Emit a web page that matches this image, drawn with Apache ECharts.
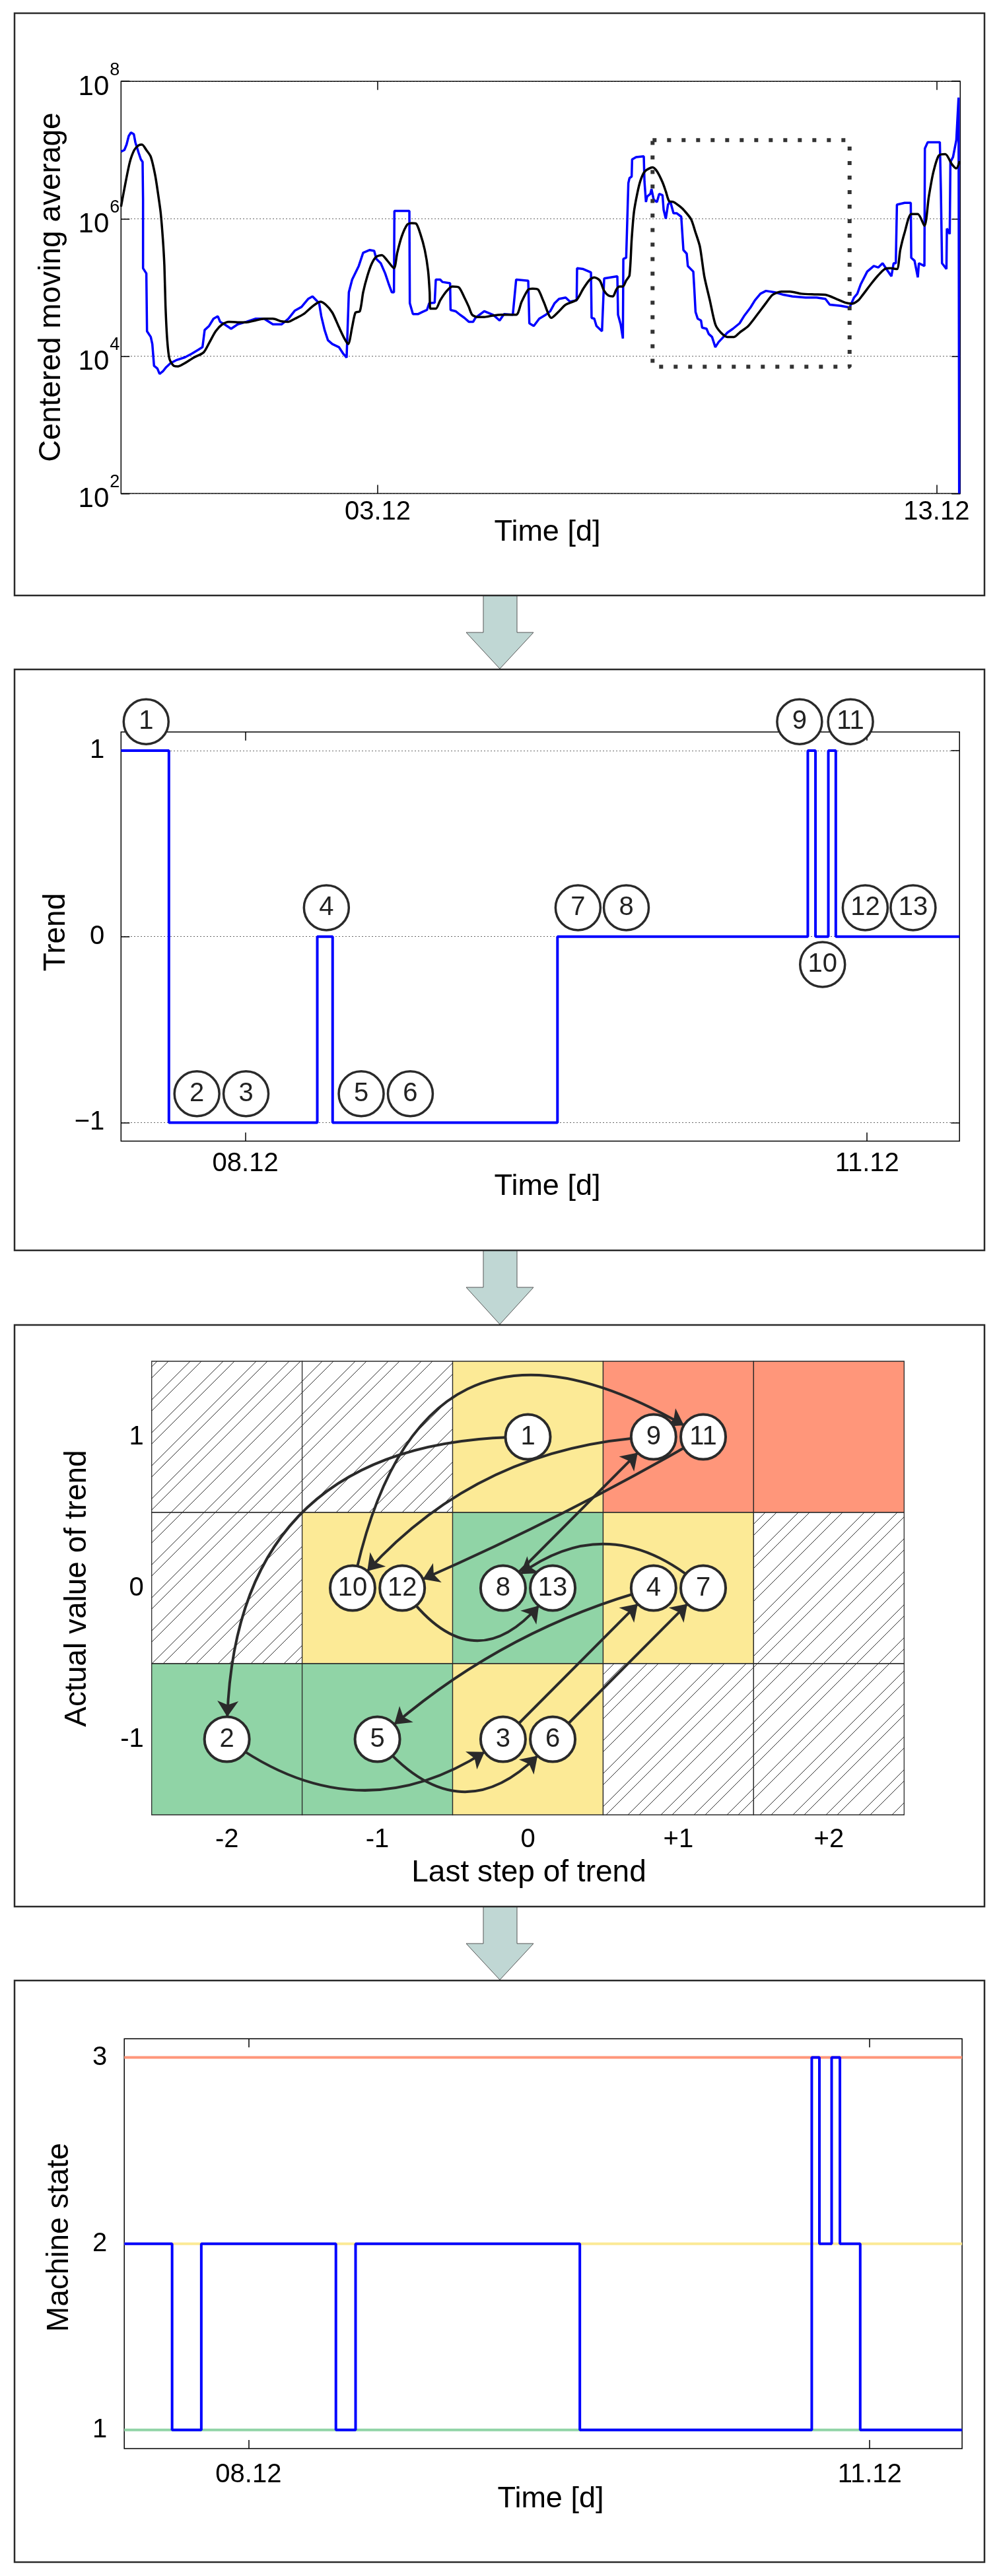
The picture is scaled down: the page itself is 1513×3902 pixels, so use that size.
<!DOCTYPE html>
<html>
<head>
<meta charset="utf-8">
<script src="https://cdn.jsdelivr.net/npm/echarts@6.0.0/dist/echarts.min.js"></script>
<style>
html,body{margin:0;padding:0;background:#fff;}
#chart{width:1513px;height:3902px;}
</style>
</head>
<body>
<div id="chart"></div>
<script>
// ---------------- DATA ----------------
// Panel 1: centered moving average (day of December, value)
const rawSignal = [
 [-1.593,9.5e6],[-1.533,1.0e7],[-1.494,1.2e7],[-1.455,1.6e7],[-1.415,1.8e7],[-1.364,1.7e7],[-1.337,1.3e7],
 [-1.278,9.1e6],[-1.238,7.3e6],[-1.207,6.7e6],[-1.199,1.9e6],[-1.199,1.9e5],[-1.140,1.6e5],[-1.128,2.3e4],
 [-1.061,1.9e4],[-1.033,1.5e4],[-1.002,7.2e3],[-0.943,6.6e3],[-0.903,5.5e3],[-0.844,6.0e3],[-0.785,6.9e3],
 [-0.706,7.9e3],[-0.608,8.7e3],[-0.450,9.6e3],[-0.332,1.08e4],[-0.214,1.23e4],[-0.135,1.35e4],[-0.116,1.41e4],
 [-0.096,2.4e4],[-0.017,2.75e4],[0.062,3.5e4],[0.140,3.8e4],[0.180,3.16e4],[0.258,2.9e4],[0.377,2.5e4],
 [0.495,2.9e4],[0.652,3.16e4],[0.810,3.5e4],[0.967,3.5e4],[1.125,2.9e4],[1.282,2.9e4],[1.401,3.5e4],
 [1.519,4.6e4],[1.637,5.2e4],[1.755,6.8e4],[1.834,7.4e4],[1.952,5.9e4],[1.991,3.8e4],[2.050,2.4e4],
 [2.110,1.7e4],[2.188,1.5e4],[2.306,1.35e4],[2.385,1.08e4],[2.444,9.5e3],[2.484,8.5e4],[2.543,1.3e5],
 [2.661,2.05e5],[2.740,3.2e5],[2.858,3.5e5],[2.937,3.4e5],[2.976,2.6e5],[3.055,2.25e5],[3.134,1.6e5],
 [3.193,1.15e5],[3.252,8.5e4],[3.291,8.5e4],[3.299,1.3e6],[3.567,1.3e6],[3.575,5.9e4],[3.630,4.1e4],
 [3.725,4.1e4],[3.804,4.4e4],[3.882,4.7e4],[3.922,5.9e4],[4.020,6.0e4],[4.040,1.3e5],[4.119,1.3e5],
 [4.158,1.2e5],[4.296,1.15e5],[4.304,4.7e4],[4.394,4.5e4],[4.473,4.0e4],[4.552,3.6e4],[4.631,3.16e4],
 [4.709,3.16e4],[4.749,3.6e4],[4.907,4.5e4],[5.064,4.0e4],[5.182,3.3e4],[5.261,4.1e4],[5.418,4.0e4],
 [5.478,1.3e5],[5.694,1.25e5],[5.714,3.0e4],[5.793,2.75e4],[5.891,3.5e4],[6.009,4.0e4],[6.088,4.5e4],
 [6.167,5.9e4],[6.245,6.8e4],[6.364,7.1e4],[6.442,6.2e4],[6.561,6.5e4],[6.568,1.9e5],[6.679,1.85e5],
 [6.817,1.65e5],[6.828,3.6e4],[6.876,3.5e4],[6.915,2.75e4],[7.014,2.3e4],[7.053,1.35e5],[7.289,1.45e5],
 [7.301,4.0e4],[7.348,2.9e4],[7.388,1.8e4],[7.396,2.6e5],[7.447,2.7e5],[7.486,3.3e6],[7.506,3.9e6],
 [7.545,4.1e6],[7.553,7.3e6],[7.624,7.9e6],[7.762,8.1e6],[7.774,3.5e6],[7.801,1.75e6],[7.821,2.1e6],
 [7.880,2.3e6],[7.900,2.7e6],[7.939,1.9e6],[7.998,1.75e6],[8.038,2.3e6],[8.097,2.2e6],[8.117,1.35e6],
 [8.156,1.0e6],[8.195,1.6e6],[8.235,1.8e6],[8.294,1.2e6],[8.353,1.2e6],[8.432,1.07e6],[8.471,3.5e5],
 [8.530,3.1e5],[8.550,2.05e5],[8.648,1.7e5],[8.668,8.9e4],[8.688,4.4e4],[8.727,3.5e4],[8.786,3.3e4],
 [8.806,2.6e4],[8.885,2.5e4],[8.924,2.1e4],[8.983,1.9e4],[9.042,1.35e4],[9.101,1.6e4],[9.160,1.8e4],
 [9.259,2.2e4],[9.357,2.5e4],[9.476,3.0e4],[9.554,3.8e4],[9.672,5.1e4],[9.751,6.5e4],[9.850,8.1e4],
 [9.948,8.9e4],[10.106,8.5e4],[10.263,7.8e4],[10.421,7.4e4],[10.657,7.1e4],[10.854,7.1e4],[11.012,6.8e4],
 [11.090,5.6e4],[11.287,5.4e4],[11.445,5.1e4],[11.524,7.1e4],[11.583,8.1e4],[11.642,1.1e5],[11.760,1.7e5],
 [11.878,2.05e5],[11.957,1.95e5],[12.036,2.25e5],[12.114,1.8e5],[12.193,1.45e5],[12.233,2.25e5],
 [12.272,2.25e5],[12.292,1.6e6],[12.430,1.7e6],[12.540,1.7e6],[12.548,2.7e5],[12.607,2.45e5],
 [12.666,1.4e5],[12.685,2.25e5],[12.784,2.05e5],[12.792,1.05e7],[12.843,1.3e7],[13.060,1.3e7],
 [13.079,2.5e6],[13.099,2.25e5],[13.178,1.85e5],[13.186,7.2e5],[13.237,6.0e5],[13.249,6.7e6],
 [13.296,7.9e6],[13.355,1.4e7],[13.395,5.8e7],[13.406,100]
];
const smoothSignal = [
 [-1.593,1.5e6],[-1.514,3.3e6],[-1.435,6.7e6],[-1.356,1.0e7],[-1.278,1.17e7],[-1.218,1.2e7],[-1.140,1.0e7],
 [-1.061,8.0e6],[-0.982,4.3e6],[-0.923,2.1e6],[-0.884,1.23e6],[-0.844,5.0e5],[-0.817,2.05e5],[-0.797,5.4e4],
 [-0.766,1.7e4],[-0.726,9.1e3],[-0.647,7.2e3],[-0.569,7.1e3],[-0.450,7.9e3],[-0.293,9.5e3],[-0.116,1.13e4],
 [-0.017,1.55e4],[0.101,2.3e4],[0.219,2.9e4],[0.337,3.16e4],[0.495,3.1e4],[0.652,3.1e4],[0.810,3.3e4],
 [0.967,3.5e4],[1.125,3.5e4],[1.282,3.2e4],[1.401,3.16e4],[1.519,3.5e4],[1.676,4.1e4],[1.834,5.3e4],
 [1.972,6.2e4],[2.070,5.6e4],[2.188,4.3e4],[2.306,2.65e4],[2.405,1.8e4],[2.472,1.5e4],[2.543,2.65e4],
 [2.602,4.3e4],[2.681,4.5e4],[2.740,8.5e4],[2.819,1.5e5],[2.897,2.25e5],[2.976,2.8e5],[3.075,2.95e5],
 [3.173,2.45e5],[3.291,1.9e5],[3.350,3.2e5],[3.429,5.5e5],[3.528,8.2e5],[3.606,8.6e5],[3.685,8.5e5],
 [3.764,6.0e5],[3.843,3.5e5],[3.902,1.75e5],[3.930,8.5e4],[3.941,4.9e4],[4.040,4.9e4],[4.119,6.5e4],
 [4.237,8.9e4],[4.335,1.03e5],[4.453,1.0e5],[4.552,7.1e4],[4.631,5.2e4],[4.690,4.0e4],[4.788,3.7e4],
 [4.907,3.7e4],[5.064,3.9e4],[5.222,4.0e4],[5.478,4.0e4],[5.576,6.2e4],[5.694,9.3e4],[5.773,9.6e4],
 [5.871,9.3e4],[5.970,6.2e4],[6.108,3.6e4],[6.245,4.5e4],[6.364,5.6e4],[6.561,6.6e4],[6.679,9.6e4],
 [6.797,1.3e5],[6.876,1.4e5],[6.974,1.26e5],[7.053,8.9e4],[7.132,7.6e4],[7.210,7.4e4],[7.270,9.3e4],
 [7.329,1.03e5],[7.388,1.03e5],[7.447,1.26e5],[7.506,1.5e5],[7.545,5.0e5],[7.585,1.23e6],[7.644,2.3e6],
 [7.703,3.6e6],[7.782,4.9e6],[7.919,5.6e6],[7.998,4.9e6],[8.097,3.4e6],[8.156,2.5e6],[8.215,1.8e6],
 [8.294,1.75e6],[8.412,1.5e6],[8.491,1.3e6],[8.609,9.8e5],[8.688,6.3e5],[8.767,3.9e5],[8.845,1.45e5],
 [8.944,6.5e4],[9.042,2.9e4],[9.141,2.2e4],[9.259,1.9e4],[9.377,1.9e4],[9.476,2.2e4],[9.633,2.75e4],
 [9.791,4.0e4],[9.948,5.9e4],[10.066,7.8e4],[10.224,8.7e4],[10.381,8.7e4],[10.578,8.1e4],[10.815,7.9e4],
 [11.012,7.8e4],[11.208,6.8e4],[11.366,6.0e4],[11.484,5.8e4],[11.602,6.5e4],[11.681,7.8e4],[11.839,1.15e5],
 [11.957,1.5e5],[12.075,1.85e5],[12.174,1.9e5],[12.292,1.85e5],[12.351,3.5e5],[12.430,6.3e5],[12.548,1.17e6],
 [12.666,1.17e6],[12.784,7.9e5],[12.863,2.1e6],[12.942,4.7e6],[13.040,8.3e6],[13.158,8.7e6],[13.276,6.2e6],
 [13.355,5.4e6],[13.414,6.9e6]
];
const zoomWindow = [[7.919,1.39e7],[11.445,1.39e7],[11.445,7.0e3],[7.919,7.0e3],[7.919,1.39e7]];
const p1DayRange = [-1.593, 13.425];
const p1TickDays = [3, 13];
const p1TickLabels = ['03.12', '13.12'];
const p1ValueTicks = [1e2, 1e4, 1e6, 1e8];
const p1ValueExponents = ['2', '4', '6', '8'];

// Panel 2: trend
const zoomDayRange = [7.400, 11.446];
const trendDays   = [7.400, 7.631, 8.347, 8.421, 9.506, 10.714, 10.751, 10.813, 10.849, 11.446];
const trendValues = [1, -1, 0, -1, 0, 1, 0, 1, 0, 0];
const zoomTickDays = [8, 11];
const zoomTickLabels = ['08.12', '11.12'];
const trendTicks = [-1, 0, 1];
const trendTickLabels = ['\u22121', '0', '1'];
const eventNumbers = ['1','2','3','4','5','6','7','8','9','10','11','12','13'];
const eventDays    = [7.521, 7.766, 8.003, 8.391, 8.559, 8.796, 9.605, 9.838, 10.674, 10.785, 10.920, 10.991, 11.222];
const eventTrend   = [1, -1, -1, 0, -1, -1, 0, 0, 1, 0, 1, 0, 0];
const eventSide    = ['a','a','a','a','a','a','a','a','a','b','a','a','a'];

// Panel 3: transition map
const stepValues = [-2, -1, 0, 1, 2];
const stepLabels = ['-2', '-1', '0', '+1', '+2'];
const trendRows = [1, 0, -1];
const trendRowLabels = ['1', '0', '-1'];
const cellStates = [
  ['impossible', 'impossible', 'warning', 'alarm', 'alarm'],
  ['impossible', 'warning', 'normal', 'warning', 'impossible'],
  ['normal', 'normal', 'warning', 'impossible', 'impossible']
];
const nodeStep  = [0, -2, 0, 1, -1, 0, 1, 0, 1, -1, 1, -1, 0];   // events 1..13
const nodeTrend = [1, -1, -1, 0, -1, -1, 0, 0, 1, 0, 1, 0, 0];
const transitions = [['1','2'],['2','3'],['3','4'],['4','5'],['5','6'],['6','7'],['7','8'],['8','9'],['9','10'],['10','11'],['11','12'],['12','13']];

// Panel 4: machine state
const stateDays   = [7.400, 7.631, 7.772, 8.422, 8.517, 9.600, 10.720, 10.757, 10.816, 10.856, 10.954, 11.446];
const stateValues = [2, 1, 2, 1, 2, 1, 3, 2, 3, 2, 1, 1];
const stateLevels = [1, 2, 3];
const stateTickLabels = ['1', '2', '3'];

// ---------------- STYLE ----------------
const FONT = "'Liberation Sans', Arial, Helvetica, sans-serif";
const BLUE = '#0000ff';
const DARK = '#2a2a2a';
const cellFill = { impossible: '#ffffff', normal: '#90d4a6', warning: '#fcea96', alarm: '#ff967a' };
const levelColors = ['#90d4a6', '#fcea96', '#ff967a'];
const edgeBend = [-0.5, -0.37, 0, -0.12, -0.6, 0, -0.44, 0, -0.22, 0.72, 0.03, -0.7];
const pairOffset = 0.165;

function lookup(vals, labels) {
  return function (v) {
    for (let i = 0; i < vals.length; i++) { if (Math.abs(vals[i] - v) < 1e-6 * Math.max(1, Math.abs(v))) return labels[i]; }
    return '';
  };
}
const tickInside = { show: true, inside: true, length: 13, lineStyle: { color: '#000', width: 1.5 } };
const labelBase = { fontSize: 40, fontFamily: FONT, color: '#000' };
const dotted = { type: [1.5, 3.5], color: '#333', width: 1 };
const noLine = { show: false, onZero: false };

// ---------------- BUILD ----------------
const trendLine = trendDays.map((d, i) => [d, trendValues[i]]);
const stateLine = stateDays.map((d, i) => [d, stateValues[i]]);
const markerData = eventDays.map((d, i) => ({ name: eventNumbers[i], value: [d, eventTrend[i] + (eventSide[i] === 'b' ? -0.15 : 0.155)] }));

const cellData = [];
trendRows.forEach((t, r) => stepValues.forEach((s, c) => cellData.push([s, t, cellStates[r][c]])));

// nodes: spread events that share one cell
const nodeData = eventNumbers.map((n, i) => {
  const same = [];
  for (let j = 0; j < eventNumbers.length; j++) if (nodeStep[j] === nodeStep[i] && nodeTrend[j] === nodeTrend[i]) same.push(j);
  let dx = 0;
  if (same.length === 2) dx = same[0] === i ? -pairOffset : pairOffset;
  return { name: n, value: [nodeStep[i] + dx, nodeTrend[i]] };
});
const linkData = transitions.map((t, i) => ({ source: t[0], target: t[1], lineStyle: { curveness: edgeBend[i] } }));

function levelSeries(v, i) {
  return {
    type: 'line', xAxisIndex: 5, yAxisIndex: 5, z: 1, silent: true, showSymbol: false, animation: false,
    data: [[zoomDayRange[0], v], [zoomDayRange[1], v]],
    lineStyle: { color: levelColors[i], width: 4 }
  };
}

const option = {
  animation: false,
  backgroundColor: '#ffffff',
  textStyle: { fontFamily: FONT },
  grid: [
    { left: 183.3, top: 123.2, width: 1271, height: 624.3, show: true, borderColor: '#000', borderWidth: 1.5, backgroundColor: 'transparent', outerBoundsMode: 'none' },
    { left: 183.3, top: 1108.7, width: 1269.9, height: 619.9, show: true, borderColor: '#000', borderWidth: 1.5, backgroundColor: 'transparent', outerBoundsMode: 'none' },
    { left: 229.7, top: 2062, width: 1139.6, height: 687, show: false, outerBoundsMode: 'none' },
    { left: 188.2, top: 3088.3, width: 1268.9, height: 620.7, show: true, borderColor: '#000', borderWidth: 1.5, backgroundColor: 'transparent', outerBoundsMode: 'none' }
  ],
  xAxis: [
    { gridIndex: 0, type: 'value', min: p1DayRange[0], max: p1DayRange[1], position: 'bottom',
      axisLine: noLine, splitLine: { show: false },
      axisTick: Object.assign({ customValues: p1TickDays }, tickInside),
      axisLabel: Object.assign({ customValues: p1TickDays, formatter: lookup(p1TickDays, p1TickLabels), margin: 8 }, labelBase) },
    { gridIndex: 0, type: 'value', min: p1DayRange[0], max: p1DayRange[1], position: 'top',
      axisLine: noLine, splitLine: { show: false },
      axisTick: Object.assign({ customValues: p1TickDays }, tickInside), axisLabel: { show: false } },
    { gridIndex: 1, type: 'value', min: zoomDayRange[0], max: zoomDayRange[1], position: 'bottom',
      axisLine: noLine, splitLine: { show: false },
      axisTick: Object.assign({ customValues: zoomTickDays }, tickInside),
      axisLabel: Object.assign({ customValues: zoomTickDays, formatter: lookup(zoomTickDays, zoomTickLabels), margin: 14 }, labelBase) },
    { gridIndex: 1, type: 'value', min: zoomDayRange[0], max: zoomDayRange[1], position: 'top',
      axisLine: noLine, splitLine: { show: false },
      axisTick: Object.assign({ customValues: zoomTickDays }, tickInside), axisLabel: { show: false } },
    { gridIndex: 2, type: 'value', min: -2.5, max: 2.5, position: 'bottom',
      axisLine: noLine, splitLine: { show: false }, axisTick: { show: false, customValues: stepValues },
      axisLabel: Object.assign({ customValues: stepValues, formatter: lookup(stepValues, stepLabels), margin: 18 }, labelBase) },
    { gridIndex: 3, type: 'value', min: zoomDayRange[0], max: zoomDayRange[1], position: 'bottom',
      axisLine: noLine, splitLine: { show: false },
      axisTick: Object.assign({ customValues: zoomTickDays }, tickInside),
      axisLabel: Object.assign({ customValues: zoomTickDays, formatter: lookup(zoomTickDays, zoomTickLabels), margin: 20 }, labelBase) },
    { gridIndex: 3, type: 'value', min: zoomDayRange[0], max: zoomDayRange[1], position: 'top',
      axisLine: noLine, splitLine: { show: false },
      axisTick: Object.assign({ customValues: zoomTickDays }, tickInside), axisLabel: { show: false } }
  ],
  yAxis: [
    { gridIndex: 0, type: 'log', logBase: 100, min: 1e2, max: 1e8, position: 'left',
      axisLine: noLine, axisTick: tickInside,
      splitLine: { show: true, lineStyle: dotted },
      axisLabel: { margin: 2, color: '#000', fontFamily: FONT,
        formatter: v => '{b|10}{s|' + lookup(p1ValueTicks, p1ValueExponents)(v) + '}',
        rich: { b: { fontSize: 42, fontFamily: FONT, color: '#000', padding: [18, 0, 0, 0] },
                s: { fontSize: 27, fontFamily: FONT, color: '#000', verticalAlign: 'top', padding: [0, 0, 0, 1] } } } },
    { gridIndex: 0, type: 'log', logBase: 100, min: 1e2, max: 1e8, position: 'right',
      axisLine: noLine, axisTick: tickInside, splitLine: { show: false }, axisLabel: { show: false } },
    { gridIndex: 1, type: 'value', min: -1.1, max: 1.1, position: 'left',
      axisLine: noLine,
      axisTick: Object.assign({ customValues: trendTicks }, tickInside),
      splitLine: { show: true, lineStyle: dotted },
      axisLabel: Object.assign({ customValues: trendTicks, formatter: lookup(trendTicks, trendTickLabels), margin: 25 }, labelBase) },
    { gridIndex: 1, type: 'value', min: -1.1, max: 1.1, position: 'right',
      axisLine: noLine, splitLine: { show: false },
      axisTick: Object.assign({ customValues: trendTicks }, tickInside), axisLabel: { show: false } },
    { gridIndex: 2, type: 'value', min: -1.5, max: 1.5, position: 'left',
      axisLine: noLine, splitLine: { show: false }, axisTick: { show: false, customValues: trendRows },
      axisLabel: Object.assign({ customValues: trendRows, formatter: lookup(trendRows, trendRowLabels), margin: 12 }, labelBase) },
    { gridIndex: 3, type: 'value', min: 0.9, max: 3.1, position: 'left',
      axisLine: noLine, splitLine: { show: false },
      axisTick: Object.assign({ customValues: stateLevels }, tickInside),
      axisLabel: Object.assign({ customValues: stateLevels, formatter: lookup(stateLevels, stateTickLabels), margin: 26 }, labelBase) },
    { gridIndex: 3, type: 'value', min: 0.9, max: 3.1, position: 'right',
      axisLine: noLine, splitLine: { show: false },
      axisTick: Object.assign({ customValues: stateLevels }, tickInside), axisLabel: { show: false } }
  ],
  series: [
    { name: 'raw', type: 'line', xAxisIndex: 0, yAxisIndex: 0, data: rawSignal, showSymbol: false, z: 2,
      lineStyle: { color: BLUE, width: 3.5 }, silent: true },
    { name: 'centered', type: 'line', xAxisIndex: 0, yAxisIndex: 0, data: smoothSignal, showSymbol: false, z: 3,
      smooth: 0.25, lineStyle: { color: '#000', width: 3.5 }, silent: true },
    { name: 'zoomWindow', type: 'line', xAxisIndex: 0, yAxisIndex: 0, data: zoomWindow, showSymbol: false, z: 4,
      lineStyle: { color: '#333', width: 6, type: [6, 16], cap: 'butt' }, silent: true },

    { name: 'trend', type: 'line', step: 'end', xAxisIndex: 2, yAxisIndex: 2, data: trendLine, showSymbol: false, z: 3,
      lineStyle: { color: BLUE, width: 4 }, silent: true },
    { name: 'events', type: 'scatter', xAxisIndex: 2, yAxisIndex: 2, data: markerData, clip: false, z: 5,
      symbol: 'circle', symbolSize: 68, silent: true,
      itemStyle: { color: '#fff', borderColor: DARK, borderWidth: 3.5, opacity: 1 },
      label: { show: true, position: 'inside', formatter: '{b}', fontSize: 40, fontFamily: FONT, color: '#222' } },

    { name: 'cells', type: 'custom', xAxisIndex: 4, yAxisIndex: 4, z: 1, clip: false, silent: true,
      data: cellData.map(c => [c[0], c[1], c[2]]),
      dimensions: ['step', 'trend', { name: 'state', type: 'ordinal' }],
      encode: { x: 0, y: 1 },
      renderItem: function (params, api) {
        const item = cellData[params.dataIndex];
        const s = item[0], t = item[1], st = item[2];
        const tl = api.coord([s - 0.5, t + 0.5]);
        const br = api.coord([s + 0.5, t - 0.5]);
        const x0 = tl[0], y0 = tl[1], x1 = br[0], y1 = br[1];
        const children = [{ type: 'rect', shape: { x: x0, y: y0, width: x1 - x0, height: y1 - y0 }, style: { fill: cellFill[st] } }];
        if (st === 'impossible') {
          const start = Math.floor((x0 + y0) / 50) * 50 - 50;
          for (let base = start; base < x1 + y1 + 50; base += 50) {
            [base, base + 17].forEach(k => {
              const xa = Math.max(x0, k - y1), xb = Math.min(x1, k - y0);
              if (xb - xa > 0.5) children.push({ type: 'line', shape: { x1: xa, y1: k - xa, x2: xb, y2: k - xb }, style: { stroke: '#333', lineWidth: 1 } });
            });
          }
        }
        children.push({ type: 'rect', shape: { x: x0, y: y0, width: x1 - x0, height: y1 - y0 }, style: { fill: 'none', stroke: DARK, lineWidth: 1.3 } });
        return { type: 'group', children: children };
      } },
    { name: 'transitions', type: 'graph', coordinateSystem: 'cartesian2d', xAxisIndex: 4, yAxisIndex: 4, z: 5,
      layout: 'none', silent: true, symbol: 'circle', symbolSize: 68,
      data: nodeData, links: linkData,
      edgeSymbol: ['none', 'arrow'], edgeSymbolSize: [0, 24],
      itemStyle: { color: '#fff', borderColor: DARK, borderWidth: 4, opacity: 1 },
      label: { show: true, position: 'inside', formatter: '{b}', fontSize: 40, fontFamily: FONT, color: '#222' },
      lineStyle: { color: DARK, width: 4, opacity: 1 },
      emphasis: { disabled: true } },

    levelSeries(stateLevels[0], 0), levelSeries(stateLevels[1], 1), levelSeries(stateLevels[2], 2),
    { name: 'state', type: 'line', step: 'end', xAxisIndex: 5, yAxisIndex: 5, data: stateLine, showSymbol: false, z: 3,
      lineStyle: { color: BLUE, width: 4 }, silent: true }
  ],
  graphic: {
    elements: [
      // connecting arrows
      { type: 'polygon', z: 10, shape: { points: [[732,902],[783,902],[783,958],[808,958],[757,1013],[706,958],[732,958]] }, style: { fill: '#c0d7d4', stroke: '#555', lineWidth: 1 } },
      { type: 'polygon', z: 10, shape: { points: [[732,1894],[783,1894],[783,1950],[808,1950],[757,2006],[706,1950],[732,1950]] }, style: { fill: '#c0d7d4', stroke: '#555', lineWidth: 1 } },
      { type: 'polygon', z: 10, shape: { points: [[732,2888],[783,2888],[783,2944],[808,2944],[757,2999],[706,2944],[732,2944]] }, style: { fill: '#c0d7d4', stroke: '#555', lineWidth: 1 } },
      // panel frames
      { type: 'rect', z: 11, shape: { x: 22, y: 20, width: 1469, height: 882 }, style: { fill: 'none', stroke: DARK, lineWidth: 2.5 } },
      { type: 'rect', z: 11, shape: { x: 22, y: 1014, width: 1469, height: 880 }, style: { fill: 'none', stroke: DARK, lineWidth: 2.5 } },
      { type: 'rect', z: 11, shape: { x: 22, y: 2007, width: 1469, height: 881 }, style: { fill: 'none', stroke: DARK, lineWidth: 2.5 } },
      { type: 'rect', z: 11, shape: { x: 22, y: 3000, width: 1469, height: 881 }, style: { fill: 'none', stroke: DARK, lineWidth: 2.5 } },
      // axis titles
      { type: 'text', x: 78, y: 435, rotation: Math.PI / 2, style: { text: 'Centered moving average', fontSize: 46, fontFamily: FONT, fill: '#000', align: 'center', verticalAlign: 'middle' } },
      { type: 'text', x: 829, y: 807, style: { text: 'Time [d]', fontSize: 45, fontFamily: FONT, fill: '#000', align: 'center', verticalAlign: 'middle' } },
      { type: 'text', x: 85, y: 1412, rotation: Math.PI / 2, style: { text: 'Trend', fontSize: 46, fontFamily: FONT, fill: '#000', align: 'center', verticalAlign: 'middle' } },
      { type: 'text', x: 829, y: 1798, style: { text: 'Time [d]', fontSize: 45, fontFamily: FONT, fill: '#000', align: 'center', verticalAlign: 'middle' } },
      { type: 'text', x: 117, y: 2406, rotation: Math.PI / 2, style: { text: 'Actual value of trend', fontSize: 46, fontFamily: FONT, fill: '#000', align: 'center', verticalAlign: 'middle' } },
      { type: 'text', x: 801, y: 2837, style: { text: 'Last step of trend', fontSize: 46, fontFamily: FONT, fill: '#000', align: 'center', verticalAlign: 'middle' } },
      { type: 'text', x: 90, y: 3389, rotation: Math.PI / 2, style: { text: 'Machine state', fontSize: 46, fontFamily: FONT, fill: '#000', align: 'center', verticalAlign: 'middle' } },
      { type: 'text', x: 834, y: 3786, style: { text: 'Time [d]', fontSize: 45, fontFamily: FONT, fill: '#000', align: 'center', verticalAlign: 'middle' } }
    ]
  }
};

const chart = echarts.init(document.getElementById('chart'), null, { renderer: 'canvas', width: 1513, height: 3902 });
chart.setOption(option);
</script>
</body>
</html>
